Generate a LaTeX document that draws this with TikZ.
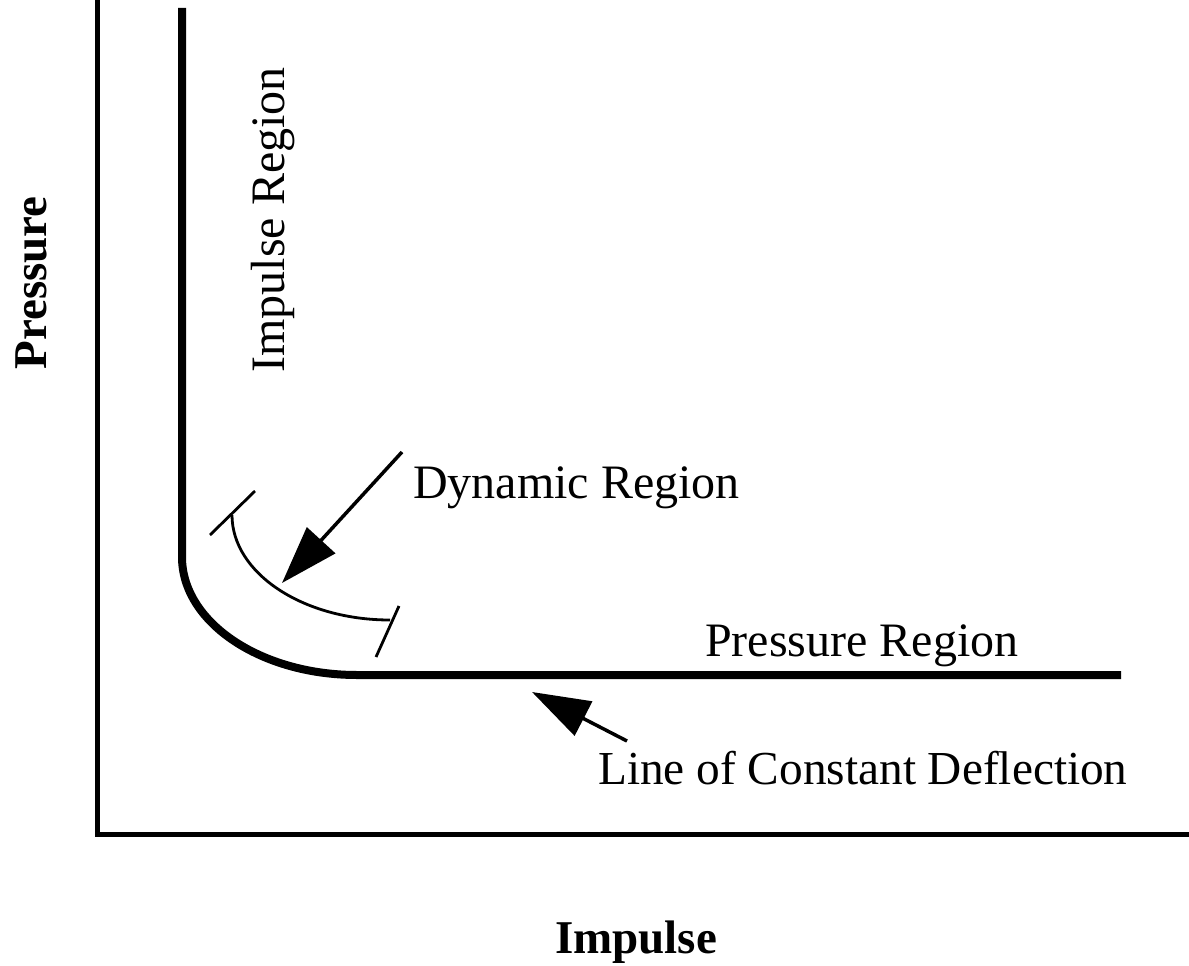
\documentclass[tikz,border=0pt]{standalone}
\usepackage{fontspec}
\setmainfont{Liberation Serif}
\usetikzlibrary{arrows.meta}
\begin{document}
\begin{tikzpicture}[x=1pt,y=-1pt,
  axisline/.style={line width=5pt, line join=miter},
  curveline/.style={line width=8pt},
  thinline/.style={line width=2.8pt},
  ptr/.style={line width=3.5pt, -{Triangle[length=58pt,width=38pt]}},
  lbl/.style={inner sep=0pt, font=\fontsize{48}{58}\selectfont},
  blbl/.style={inner sep=0pt, font=\fontsize{47}{56}\selectfont\bfseries}]
\useasboundingbox (0,0) rectangle (1189,966);
% axes
\coordinate (ytop) at (97,-5);
\coordinate (orig) at (97,834);
\coordinate (xend) at (1194,834);
\draw[axisline] (ytop) -- (orig) -- (xend);
% constant deflection line
\coordinate (ctop) at (182,8);
\coordinate (cbend) at (182,557);
\coordinate (cend) at (1121,675);
\draw[curveline] (ctop) -- (cbend) arc[start angle=180, end angle=270, x radius=175, y radius=-118] -- (cend);
% dynamic region bracket
\coordinate (b1) at (232,515);
\draw[thinline] (b1) arc[start angle=180, end angle=270, x radius=158, y radius=-105] coordinate (b2);
\coordinate (t1a) at (210,535);
\coordinate (t1b) at (255,491);
\coordinate (t2a) at (399,606);
\coordinate (t2b) at (376,657);
\draw[thinline] (t1a) -- (t1b);
\draw[thinline] (t2a) -- (t2b);
% labels
\node[lbl, rotate=90, anchor=base] (imreg) at (284,220) {Impulse Region};
\node[lbl, anchor=base west] (dynreg) at (413,498) {Dynamic Region};
\node[lbl, anchor=base west] (preg) at (705,656) {Pressure Region};
\node[lbl, anchor=base west, font=\fontsize{47.3}{57}\selectfont] (lcd) at (598,784) {Line of Constant Deflection};
\node[blbl, rotate=90, anchor=base] (ylab) at (46,283) {Pressure};
\node[blbl, anchor=base] (xlab) at (636,953) {Impulse};
% arrows
\coordinate (a1s) at (402,452);
\coordinate (a1e) at (282,583);
\draw[ptr] (a1s) -- (a1e);
\coordinate (a2s) at (627,741);
\coordinate (a2e) at (532,692);
\draw[ptr] (a2s) -- (a2e);
\end{tikzpicture}
\end{document}
